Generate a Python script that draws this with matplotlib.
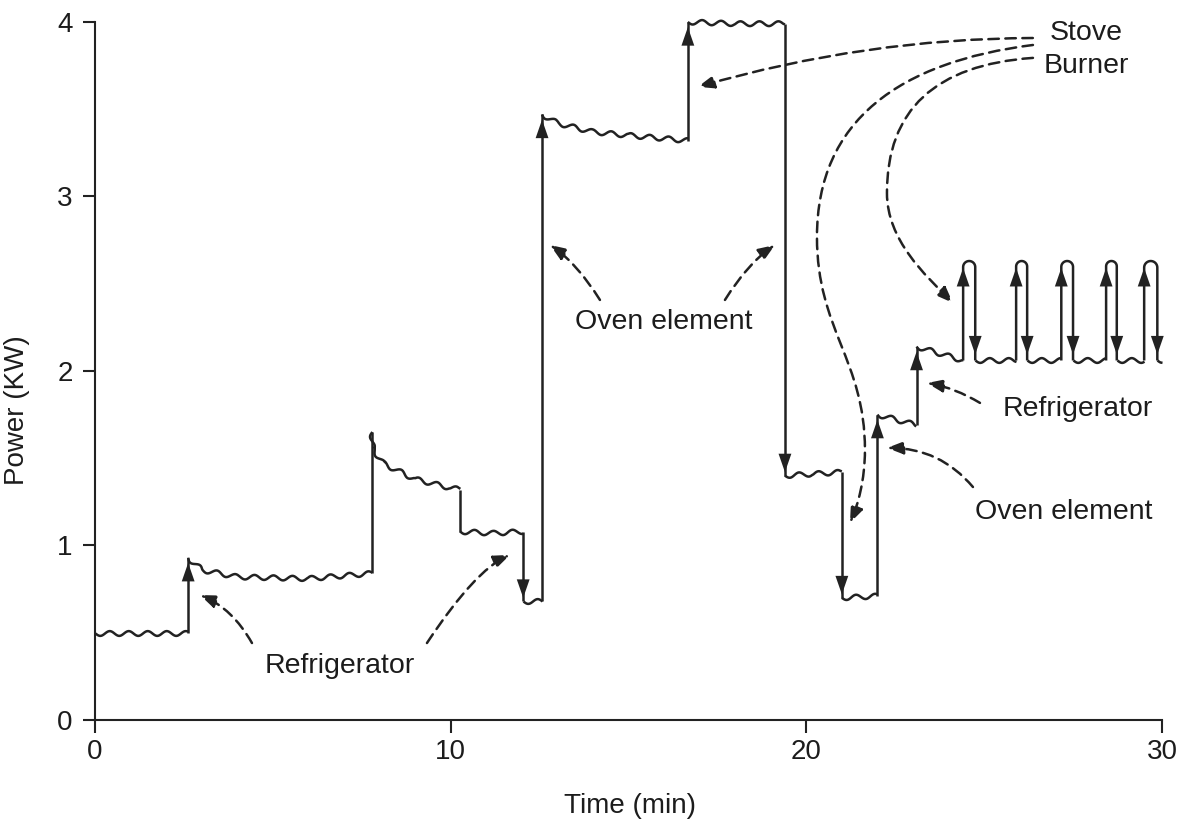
import numpy as np
import matplotlib
matplotlib.use("Agg")
import matplotlib.pyplot as plt
from matplotlib.path import Path
from matplotlib.patches import FancyArrowPatch

# ------------------------------------------------------------------ data
# Power level segments between switching events (time in min, power in kW)
seg_t = [
    [0.0, 1.3, 2.62],
    [2.62, 3.0, 4.0, 6.0, 7.8],
    [7.8, 7.8, 8.1, 9.0, 10.0, 10.27],
    [10.27, 11.2, 12.04],
    [12.04, 12.57],
    [12.57, 13.0, 14.0, 15.0, 16.67],
    [16.67, 18.0, 19.4],
    [19.4, 20.2, 21.0],
    [21.0, 22.0],
    [22.0, 23.1],
    [23.1, 24.41],
]
seg_p = [
    [0.50, 0.50, 0.50],
    [0.93, 0.86, 0.82, 0.81, 0.84],
    [1.65, 1.56, 1.47, 1.38, 1.33, 1.32],
    [1.08, 1.07, 1.08],
    [0.68, 0.68],
    [3.47, 3.42, 3.37, 3.35, 3.32],
    [4.00, 3.99, 3.99],
    [1.40, 1.41, 1.42],
    [0.70, 0.71],
    [1.75, 1.69],
    [2.14, 2.06],
]
# which switching edges (between consecutive segments) carry an arrow
edge_arrow = [True, False, False, True, True, True, True, True, True, True]

# Stove burner cycling
burner_on = [24.41, 25.90, 27.17, 28.43, 29.50]
burner_off = [24.75, 26.21, 27.50, 28.73, 29.87]
burner_base = 2.06
burner_top = 2.63
end_time = 30.0

x_ticks = [0, 10, 20, 30]
y_ticks = [0, 1, 2, 3, 4]
x_label = "Time (min)"
y_label = "Power (KW)"

# ------------------------------------------------------------------ style
plt.rcParams["font.family"] = ["Liberation Sans", "DejaVu Sans"]
INK = "#222222"
TXT = "#1c1c1c"
LW = 1.8
FS = 20
FS_ANN = 20.5
WIGGLE = (2.4, 19, 1)  # sketch: amplitude px, wavelength px, randomness

fig = plt.figure(figsize=(11.8, 8.19), dpi=100)
ax = fig.add_axes([0.0805, 0.1209, 0.9042, 0.8523])
ax.set_xlim(0, 30)
ax.set_ylim(0, 4)
for s in ("top", "right"):
    ax.spines[s].set_visible(False)
for s in ("left", "bottom"):
    ax.spines[s].set_linewidth(1.5)
    ax.spines[s].set_color(INK)
ax.set_xticks(x_ticks)
ax.set_yticks(y_ticks)
ax.tick_params(axis="both", direction="out", length=9, width=1.5, color=INK,
               labelsize=FS, labelcolor=TXT)
ax.tick_params(axis="y", pad=7)
ax.tick_params(axis="x", pad=5)
ax.set_xlabel(x_label, fontsize=FS, color=TXT)
ax.set_ylabel(y_label, fontsize=FS, color=TXT)
ax.xaxis.set_label_coords(0.501, -0.105)
ax.yaxis.set_label_coords(-0.061, 0.444)


def wiggly(t, p):
    ln, = ax.plot(t, p, color=INK, lw=LW, clip_on=False, solid_capstyle="butt",
                  solid_joinstyle="round")
    ln.set_sketch_params(*WIGGLE)


def straight(t, p):
    ax.plot(t, p, color=INK, lw=LW, clip_on=False, solid_capstyle="butt",
            solid_joinstyle="round")


def head(x, y, up):
    d = 1 if up else -1
    ax.annotate("", xy=(x, y), xytext=(x, y - d * 0.12),
                arrowprops=dict(arrowstyle="-|>,head_length=0.95,head_width=0.33",
                                mutation_scale=14, lw=0, color=INK,
                                shrinkA=0, shrinkB=0),
                annotation_clip=False)


# level segments
for t, p in zip(seg_t, seg_p):
    wiggly(t, p)

# switching edges
for i in range(len(seg_t) - 1):
    x = seg_t[i][-1]
    y0 = seg_p[i][-1]
    y1 = seg_p[i + 1][0]
    straight([x, x], [y0, y1])
    if edge_arrow[i]:
        if y1 > y0:
            head(x, y1 - 0.03, True)
        else:
            head(x, y1 + 0.02, False)

# burner cycles with rounded tops
fig_w, fig_h = fig.get_size_inches() * fig.dpi
pos = ax.get_position()
px_per_x = fig_w * pos.width / 30.0
px_per_y = fig_h * pos.height / 4.0
for k, (t_on, t_off) in enumerate(zip(burner_on, burner_off)):
    hw = (t_off - t_on) / 2.0
    ry = hw * px_per_x / px_per_y
    th = np.linspace(np.pi, 0, 25)
    xs = np.concatenate([[t_on], t_on + hw + hw * np.cos(th), [t_off]])
    ys = np.concatenate([[burner_base], burner_top - ry + ry * np.sin(th),
                         [burner_base]])
    straight(xs, ys)
    head(t_on, burner_top - 0.04, True)
    head(t_off, burner_base + 0.035, False)
    nxt = burner_on[k + 1] if k + 1 < len(burner_on) else end_time
    wiggly([t_off, nxt], [burner_base, burner_base])


# ------------------------------------------------------------------ annotations
def dashed(verts, codes):
    patch = FancyArrowPatch(path=Path(verts, codes),
                            arrowstyle="-|>,head_length=0.7,head_width=0.27",
                            mutation_scale=14, color=INK, lw=1.8,
                            linestyle=(0, (4.2, 2.6)), clip_on=False)
    ax.add_patch(patch)


C3 = [Path.MOVETO, Path.CURVE3, Path.CURVE3]
C4x2 = [Path.MOVETO] + [Path.CURVE4] * 6
C4x3 = [Path.MOVETO] + [Path.CURVE4] * 9

# Refrigerator (left)
dashed([(4.414, 0.441), (3.866, 0.639), (2.952, 0.716)], C3)
dashed([(9.334, 0.441), (10.69, 0.859), (11.668, 0.946)], C3)
ax.text(6.89, 0.31, "Refrigerator", fontsize=FS_ANN, color=TXT, ha="center", va="center")

# Oven element (middle)
dashed([(14.198, 2.407), (13.546, 2.620), (12.793, 2.722)], C3)
dashed([(17.713, 2.407), (18.365, 2.620), (19.119, 2.722)], C3)
ax.text(15.99, 2.28, "Oven element", fontsize=FS_ANN, color=TXT, ha="center", va="center")

# Stove burner
ax.text(27.87, 3.84, "Stove\nBurner", fontsize=FS_ANN, color=TXT, ha="center",
        va="center", linespacing=1.36)
dashed([(26.37, 3.908), (21.66, 3.905), (16.95, 3.628)], C3)
dashed([(26.373, 3.868), (22.633, 3.771), (20.300, 3.438), (20.300, 2.768),
        (20.300, 2.235), (21.649, 2.063), (21.649, 1.547),
        (21.649, 1.375), (21.452, 1.232), (21.227, 1.129)], C4x3)
dashed([(26.373, 3.794), (23.617, 3.754), (22.268, 3.496), (22.268, 3.020),
        (22.268, 2.751), (23.336, 2.550), (24.123, 2.390)], C4x2)

# Refrigerator / Oven element (right)
dashed([(24.883, 1.817), (24.180, 1.903), (23.392, 1.931)], C3)
ax.text(27.64, 1.78, "Refrigerator", fontsize=FS_ANN, color=TXT, ha="center", va="center")
dashed([(24.686, 1.335), (23.757, 1.559), (22.268, 1.559)], C3)
ax.text(27.24, 1.19, "Oven element", fontsize=FS_ANN, color=TXT, ha="center", va="center")

fig.savefig("out.png", dpi=100, facecolor="white")
